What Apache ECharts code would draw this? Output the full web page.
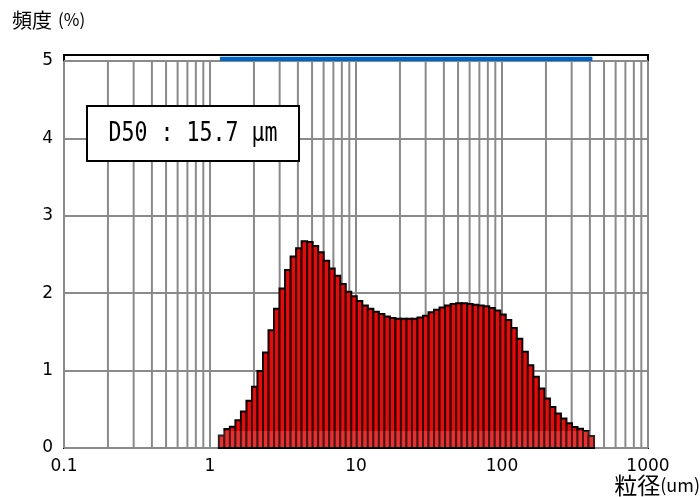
<!DOCTYPE html>
<html>
<head>
<meta charset="utf-8">
<script src="https://cdn.jsdelivr.net/npm/echarts@6/dist/echarts.min.js"></script>
<style>
html,body{margin:0;padding:0;background:#fff;}
#chart{width:700px;height:497px;}
</style>
</head>
<body>
<div id="chart"></div>
<script>
// Frequency (%) per size bin (68 bins, log-spaced)
const freq = [
  0.16, 0.245, 0.275, 0.36, 0.47, 0.61, 0.79, 0.995, 1.235, 1.52,
  1.80, 2.06, 2.30, 2.475, 2.58, 2.67, 2.66, 2.61, 2.53, 2.42,
  2.32, 2.225, 2.12, 2.02, 1.96, 1.90, 1.84, 1.80, 1.76, 1.73,
  1.70, 1.68, 1.67, 1.67, 1.67, 1.67, 1.685, 1.71, 1.755, 1.785,
  1.815, 1.84, 1.86, 1.87, 1.87, 1.86, 1.85, 1.84, 1.83, 1.81,
  1.775, 1.725, 1.655, 1.55, 1.41, 1.245, 1.07, 0.92, 0.77, 0.64,
  0.53, 0.445, 0.38, 0.32, 0.27, 0.25, 0.22, 0.155
];
// Size range covered by the bins (um)
const binLo = 1.15;
const binHi = 427;
// Measured range shown by the blue band on top (um)
const bandRange = [1.17, 416];
// Axis ticks
const xTickLabels = ['0.1', '1', '10', '100', '1000'];
const yTicks = [0, 1, 2, 3, 4, 5];
const minorGrid = [0.2,0.3,0.4,0.5,0.6,0.7,0.8,0.9, 2,3,4,5,6,7,8,9, 20,30,40,50,60,70,80,90, 200,300,400,500,600,700,800,900];
const d50Text = 'D50 : 15.7 \u03bcm';
const yTitle = '頻度';
const yUnit = '(%)';
const xTitle = '粒径';
const xUnit = '(um)';

const nBins = freq.length;
const lLo = Math.log10(binLo), lHi = Math.log10(binHi);
const binData = freq.map((v, i) => [
  Math.pow(10, lLo + (lHi - lLo) * i / nBins),
  Math.pow(10, lLo + (lHi - lLo) * (i + 1) / nBins),
  v
]);

const chart = echarts.init(document.getElementById('chart'), null, {renderer: 'canvas'});
const gridColor = '#8a8a8a';
const font = 'DejaVu Sans, Noto Sans CJK JP, sans-serif';

chart.setOption({
  animation: false,
  backgroundColor: '#fff',
  grid: [
    {left: 64, right: 52, top: 61, bottom: 49, show: true, borderColor: '#000', borderWidth: 2, backgroundColor: 'transparent'},
    {left: 64, right: 52, top: 55, height: 6, show: true, borderColor: '#000', borderWidth: 2, backgroundColor: 'transparent'}
  ],
  xAxis: [
    {
      type: 'log', logBase: 10, min: 0.1, max: 1000, gridIndex: 0,
      axisLine: {show: false}, axisTick: {show: false},
      splitLine: {show: true, lineStyle: {color: gridColor, width: 2}},
      axisLabel: {
        color: '#000', fontSize: 17, fontFamily: font, margin: 10,
        formatter: function (v) {
          const k = Math.round(Math.log10(v)) + 1;
          return xTickLabels[k] !== undefined ? xTickLabels[k] : '';
        }
      }
    },
    {type: 'log', logBase: 10, min: 0.1, max: 1000, gridIndex: 1, show: false}
  ],
  yAxis: [
    {
      type: 'value', min: yTicks[0], max: yTicks[yTicks.length - 1], interval: 1, gridIndex: 0,
      axisLine: {show: false}, axisTick: {show: false},
      splitLine: {show: true, lineStyle: {color: gridColor, width: 2}},
      axisLabel: {color: '#000', fontSize: 17, fontFamily: font, margin: 11}
    },
    {type: 'value', min: 0, max: 1, gridIndex: 1, show: false}
  ],
  series: [
    {
      type: 'custom', name: 'minorGrid', xAxisIndex: 0, yAxisIndex: 0, z: 1, silent: true,
      data: minorGrid.map(v => [v, 0]),
      encode: {x: 0, y: 1},
      renderItem: function (params, api) {
        const a = api.coord([api.value(0), yTicks[0]]);
        const b = api.coord([api.value(0), yTicks[yTicks.length - 1]]);
        return {type: 'line', shape: {x1: a[0], y1: a[1], x2: b[0], y2: b[1]},
          style: {stroke: gridColor, lineWidth: 2}};
      }
    },
    {
      type: 'custom', name: 'freq', xAxisIndex: 0, yAxisIndex: 0, z: 3,
      data: binData,
      encode: {x: [0, 1], y: 2},
      renderItem: function (params, api) {
        const p0 = api.coord([api.value(0), 0]);
        const p1 = api.coord([api.value(1), api.value(2)]);
        return {type: 'rect',
          shape: {x: p0[0], y: p1[1], width: p1[0] - p0[0], height: p0[1] - p1[1]},
          style: {fill: '#ff0000', stroke: '#000', lineWidth: 2}};
      }
    },
    {
      type: 'custom', name: 'fade', xAxisIndex: 0, yAxisIndex: 0, z: 4, silent: true,
      data: [[binLo, binHi, 0.22]],
      encode: {x: [0, 1], y: 2},
      renderItem: function (params, api) {
        const p0 = api.coord([api.value(0), 0]);
        const p1 = api.coord([api.value(1), api.value(2)]);
        return {type: 'rect',
          shape: {x: p0[0] - 1, y: p1[1], width: p1[0] - p0[0] + 2, height: p0[1] - p1[1] - 1},
          style: {fill: 'rgba(255,255,255,0.15)'}};
      }
    },
    {
      type: 'custom', name: 'band', xAxisIndex: 1, yAxisIndex: 1, z: 3, silent: true,
      data: [[bandRange[0], bandRange[1]]],
      encode: {x: [0, 1]},
      renderItem: function (params, api) {
        const p0 = api.coord([api.value(0), 0]);
        const p1 = api.coord([api.value(1), 0.7]);
        return {type: 'rect',
          shape: {x: p0[0], y: p1[1], width: p1[0] - p0[0], height: p0[1] - p1[1]},
          style: {fill: '#0066cc'}};
      }
    }
  ],
  graphic: [
    {
      type: 'group', left: 86, top: 105, z: 100,
      children: [
        {type: 'rect', z: 100, shape: {x: 0, y: 0, width: 212, height: 55},
          style: {fill: '#fff', stroke: '#000', lineWidth: 2}},
        {type: 'text', z: 101, x: 106, y: 28, scaleX: 0.8,
          style: {text: d50Text, font: '27px "DejaVu Sans Mono", monospace', fill: '#000',
            textAlign: 'center', textVerticalAlign: 'middle'}}
      ]
    },
    {
      type: 'text', left: 12, top: 10, z: 100,
      style: {
        text: '{a|' + yTitle + '}{b|' + yUnit + '}',
        rich: {
          a: {fontSize: 20, fontFamily: 'Noto Sans CJK JP', fill: '#000'},
          b: {fontSize: 17, fontFamily: 'Noto Sans CJK JP', fill: '#000', padding: [0, 0, 0, 6]}
        }
      }
    },
    {
      type: 'text', right: 0, bottom: 0, z: 100,
      style: {
        text: '{a|' + xTitle + '}{b|' + xUnit + '}',
        rich: {
          a: {fontSize: 23, fontFamily: 'Noto Sans CJK JP', fill: '#000'},
          b: {fontSize: 18, fontFamily: 'Noto Sans CJK JP', fill: '#000'}
        }
      }
    }
  ]
});
</script>
</body>
</html>
